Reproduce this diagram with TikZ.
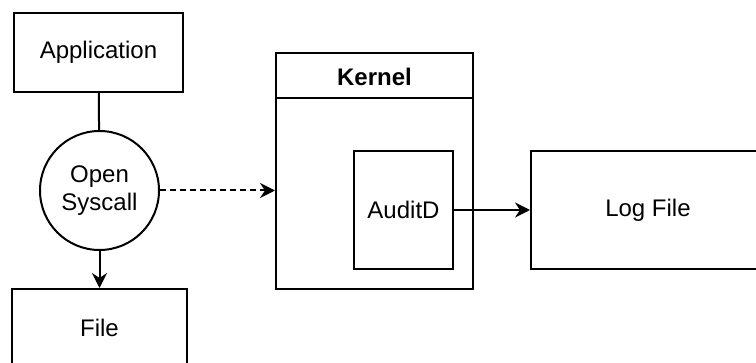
\documentclass[tikz,border=0pt]{standalone}
\usepackage{fontspec}
\setmainfont{Liberation Sans}
\usetikzlibrary{arrows.meta}

\begin{document}
\begin{tikzpicture}[x=0.5pt, y=-0.5pt, line width=1pt,
font=\fontsize{12}{14}\selectfont,
box/.style={rectangle, draw, inner sep=0pt},
call/.style={circle, draw, inner sep=0pt, minimum size=59.5pt, align=center},
tip/.style={-{Stealth[length=7.5pt, width=7.5pt, inset=2.5pt]}}]
  \clip (0,0) rectangle (756,363);
  % user space
  \node[box, minimum width=84.5pt, minimum height=39.5pt] (app) at (98.5, 52.5) {Application};
  \node[call] (syscall) at (99.5, 190.5) {Open\\Syscall};
  \node[box, minimum width=87.5pt, minimum height=39pt] (file) at (99.5, 328) {File};
  % kernel
  \node[box, minimum width=98.5pt, minimum height=118pt] (kernel) at (374.5, 171) {};
  \node[font=\fontsize{12}{14}\selectfont\bfseries] (kerneltitle) at (374.5, 77) {Kernel};
  \draw ([yshift=-23pt]kernel.north west) -- ([yshift=-23pt]kernel.north east);
  \node[box, minimum width=49.5pt, minimum height=59pt] (auditd) at (403.5, 210) {AuditD};
  % output
  \node[box, minimum width=117pt, minimum height=59pt] (logfile) at (648, 210) {Log File};

  \draw (app) -- (syscall);
  \draw[tip] (syscall) -- (file);
  \draw[tip, dash pattern=on 3pt off 2pt] (syscall.east) -- (syscall -| kernel.west);
  \draw[tip] (auditd) -- (logfile);
\end{tikzpicture}
\end{document}
